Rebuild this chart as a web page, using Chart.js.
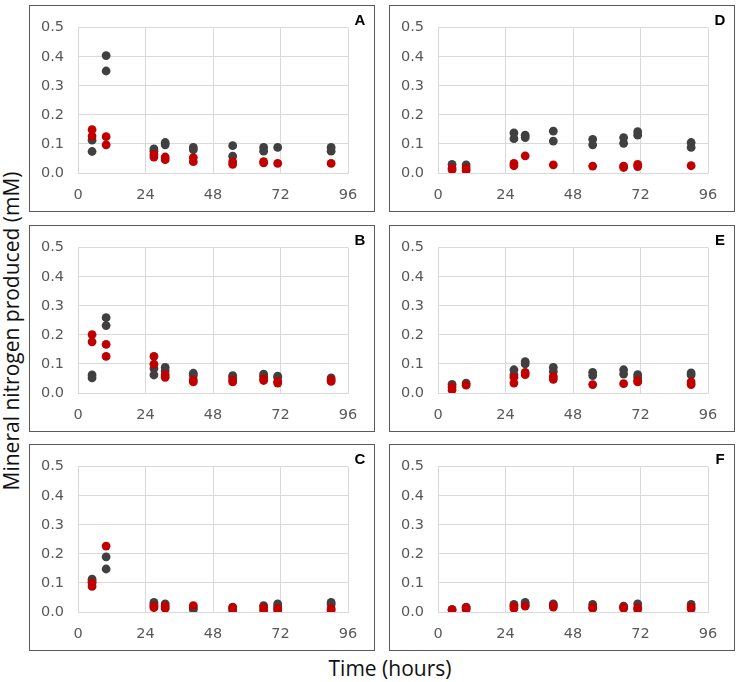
<!DOCTYPE html>
<html>
<head>
<meta charset="utf-8">
<script src="https://cdn.jsdelivr.net/npm/chart.js@4.4.1/dist/chart.umd.min.js"></script>
<style>
  body { margin: 0; background: #fff; width: 737px; height: 682px; position: relative; overflow: hidden; }
  .panel { position: absolute; width: 346px; height: 207px; }
  .panel canvas { position: absolute; left: 0; top: 0; }
  .frame { position: absolute; left: 0; top: 0; width: 346px; height: 207px; box-sizing: border-box;
           border: 1.5px solid #5a5a5a; pointer-events: none; }
  .tag { position: absolute; left: 321px; top: 6px; width: 20px; text-align: center;
         font: bold 15px "Liberation Sans", Arial, sans-serif; color: #000; }
  #ytitle { position: absolute; left: 11px; top: 331px; transform: translate(-50%, -50%) rotate(-90deg);
            white-space: nowrap; font: 21px "Open Sans", sans-serif; color: #111; }
  #xtitle { position: absolute; left: 390px; top: 668px; transform: translate(-50%, -50%);
            white-space: nowrap; font: 21px "Open Sans", sans-serif; color: #111; }
</style>
</head>
<body>
<div id="ytitle">Mineral nitrogen produced (mM)</div>
<div id="xtitle">Time (hours)</div>

<script>
// sampling times (hours)
var hours = [5, 10, 27, 31, 41, 55, 66, 71, 90];
var xTicks = [0, 24, 48, 72, 96];
var yTicks = [0, 0.1, 0.2, 0.3, 0.4, 0.5];

// replicate values at each time, black and red series per panel
var darkA = [[0.113, 0.074], [0.404, 0.351], [0.083, 0.075], [0.105, 0.097], [0.088, 0.080], [0.094, 0.058], [0.088, 0.075], [0.088], [0.088, 0.075]];
var redA  = [[0.149, 0.127], [0.125, 0.097], [0.064, 0.055], [0.055, 0.046], [0.053, 0.039], [0.039, 0.030], [0.039, 0.035], [0.033], [0.033]];

var darkB = [[0.062, 0.052], [0.259, 0.232], [0.084, 0.062], [0.088, 0.076], [0.068, 0.060], [0.060, 0.054], [0.065, 0.058], [0.058, 0.054], [0.052]];
var redB  = [[0.201, 0.176], [0.167, 0.126], [0.126, 0.099], [0.063, 0.054], [0.045, 0.038], [0.045, 0.038], [0.049, 0.043], [0.040, 0.034], [0.045, 0.040]];

var darkC = [[0.113, 0.105], [0.190, 0.148], [0.033, 0.026], [0.028], [0.015, 0.009], [0.017], [0.022], [0.028, 0.020], [0.033, 0.026]];
var redC  = [[0.100, 0.088], [0.227], [0.020, 0.015], [0.020, 0.012], [0.022], [0.015, 0.006], [0.015, 0.006], [0.012, 0.006], [0.012, 0.006]];

var darkD = [[0.030], [0.028], [0.138, 0.118], [0.130, 0.122], [0.144, 0.110], [0.116, 0.097], [0.122, 0.102], [0.142, 0.130], [0.105, 0.088]];
var redD  = [[0.017, 0.011], [0.017, 0.009], [0.033, 0.025], [0.059], [0.028], [0.024], [0.024, 0.019], [0.030, 0.022], [0.025]];

var darkE = [[0.030], [0.034], [0.080, 0.063], [0.108, 0.100], [0.088, 0.074], [0.071, 0.060], [0.080, 0.065], [0.063, 0.054], [0.069, 0.062]];
var redE  = [[0.021, 0.010], [0.027], [0.054, 0.034], [0.071, 0.063], [0.057, 0.047], [0.029], [0.032], [0.043, 0.038], [0.038, 0.029]];

var darkF = [[0.009], [0.017], [0.026], [0.033, 0.026], [0.028], [0.026], [0.020], [0.028], [0.026]];
var redF  = [[0.007], [0.015, 0.009], [0.020, 0.012], [0.020], [0.022, 0.017], [0.017, 0.012], [0.017, 0.012], [0.015, 0.009], [0.017, 0.011]];

var panels = [
    {tag: 'A', left: 29,  top: 5,   dark: darkA, red: redA},
    {tag: 'B', left: 29,  top: 225, dark: darkB, red: redB},
    {tag: 'C', left: 29,  top: 444, dark: darkC, red: redC},
    {tag: 'D', left: 389, top: 5,   dark: darkD, red: redD},
    {tag: 'E', left: 389, top: 225, dark: darkE, red: redE},
    {tag: 'F', left: 389, top: 444, dark: darkF, red: redF}
];

function toPoints(reps) {
    var pts = [];
    reps.forEach(function (vals, i) {
        vals.forEach(function (v) { pts.push({x: hours[i], y: v}); });
    });
    return pts;
}

var tickFont = {family: 'DejaVu Sans', size: 14.5};

panels.forEach(function (p) {
    var box = document.createElement('div');
    box.className = 'panel';
    box.style.left = p.left + 'px';
    box.style.top = p.top + 'px';
    box.innerHTML = '<canvas width="346" height="207"></canvas><div class="frame"></div><div class="tag">' + p.tag + '</div>';
    document.body.appendChild(box);

    new Chart(box.querySelector('canvas'), {
        type: 'scatter',
        data: {
            datasets: [
                {data: toPoints(p.red), backgroundColor: '#c00000', borderWidth: 0, pointRadius: 4.4},
                {data: toPoints(p.dark), backgroundColor: '#404040', borderWidth: 0, pointRadius: 4.4}
            ]
        },
        options: {
            responsive: false,
            animation: false,
            layout: {padding: {top: 18, right: 27, left: 0, bottom: 0}},
            plugins: {legend: {display: false}, tooltip: {enabled: false}},
            scales: {
                x: {
                    min: 0, max: 96,
                    afterFit: function (s) { s.height = 39; },
                    afterBuildTicks: function (s) { s.ticks = xTicks.map(function (v) { return {value: v}; }); },
                    grid: {color: '#d9d9d9', drawTicks: false},
                    border: {color: '#d9d9d9'},
                    ticks: {color: '#595959', font: tickFont, padding: 14, maxRotation: 0}
                },
                y: {
                    min: 0, max: 0.5,
                    afterFit: function (s) { s.width = 49; },
                    afterBuildTicks: function (s) { s.ticks = yTicks.map(function (v) { return {value: v}; }); },
                    grid: {color: '#d9d9d9', drawTicks: false},
                    border: {color: '#d9d9d9'},
                    ticks: {color: '#595959', font: tickFont, padding: 14,
                        callback: function (v) { return v.toFixed(1); }}
                }
            }
        }
    });
});
</script>
</body>
</html>
